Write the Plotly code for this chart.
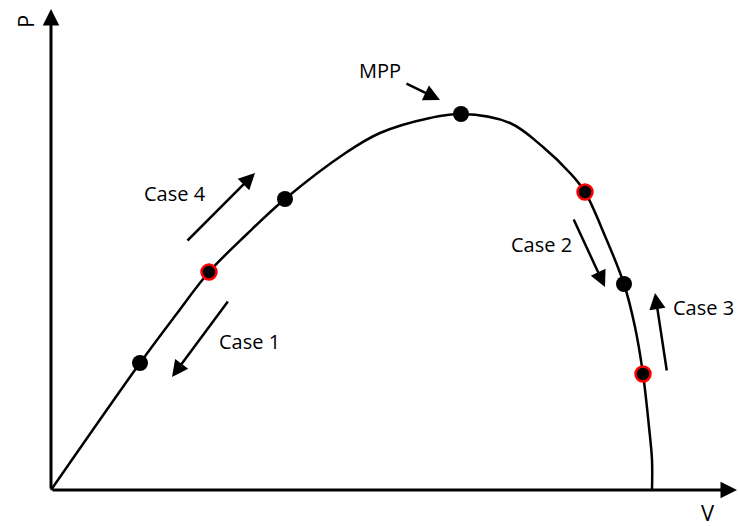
import plotly.graph_objects as go

# P-V curve (V, P) in diagram units (origin at axes corner)
curve_v = [0, 89, 124, 158, 196, 234, 296, 329, 379, 410, 459, 492, 519, 534, 554, 573, 584, 592, 598, 601, 601]
curve_p = [0, 127, 174, 218, 256, 291, 338, 357, 372, 376, 367, 343, 317, 298, 254, 206, 163, 116, 63, 30, 0]

black_v = [89, 234, 410, 573]
black_p = [127, 291, 376, 206]
red_v = [158, 534, 592]
red_p = [218, 298, 116]

# arrows: (tail_v, tail_p, head_v, head_p)
arrows = [
    (135, 248, 204, 317),   # Case 4
    (178, 190, 121, 113),   # Case 1
    (522, 272, 554, 203),   # Case 2
    (616, 118, 604, 197),   # Case 3
    (354, 407, 389, 390),   # MPP
]
labels = ["MPP", "Case 4", "Case 1", "Case 2", "Case 3"]
label_v = [329, 124, 198, 490, 652]
label_p = [420, 297, 149, 246, 183]

fig = go.Figure()
fig.add_trace(go.Scatter(x=curve_v, y=curve_p, mode="lines",
                         line=dict(color="black", width=2.5, shape="spline", smoothing=1.0),
                         hoverinfo="skip", showlegend=False))
fig.add_trace(go.Scatter(x=black_v, y=black_p, mode="markers",
                         marker=dict(color="black", size=16), showlegend=False))
fig.add_trace(go.Scatter(x=red_v, y=red_p, mode="markers",
                         marker=dict(color="black", size=15, line=dict(color="red", width=2.5)),
                         showlegend=False))

anns = []
# axes arrows
anns.append(dict(x=0, y=481, ax=0, ay=0, xref="x", yref="y", axref="x", ayref="y",
                 showarrow=True, arrowhead=2, arrowsize=1.1, arrowwidth=3, arrowcolor="black", text=""))
anns.append(dict(x=686, y=0, ax=0, ay=0, xref="x", yref="y", axref="x", ayref="y",
                 showarrow=True, arrowhead=2, arrowsize=1.1, arrowwidth=3, arrowcolor="black", text=""))
for tv, tp, hv, hp in arrows:
    anns.append(dict(x=hv, y=hp, ax=tv, ay=tp, xref="x", yref="y", axref="x", ayref="y",
                     showarrow=True, arrowhead=2, arrowsize=1.3, arrowwidth=2.5,
                     arrowcolor="black", text=""))
font = dict(family="Open Sans", size=20, color="black")
for t, v, p in zip(labels, label_v, label_p):
    anns.append(dict(x=v, y=p, xref="x", yref="y", text=t, showarrow=False, font=font))
anns.append(dict(x=-26, y=468, xref="x", yref="y", text="P", showarrow=False,
                 textangle=-90, font=dict(family="Open Sans", size=22, color="black")))
anns.append(dict(x=657, y=-22, xref="x", yref="y", text="V", showarrow=False,
                 font=dict(family="Open Sans", size=22, color="black")))

fig.update_layout(
    width=738, height=526, margin=dict(l=0, r=0, t=0, b=0),
    paper_bgcolor="white", plot_bgcolor="white",
    xaxis=dict(range=[-51, 687], visible=False, fixedrange=True),
    yaxis=dict(range=[-36, 490], visible=False, fixedrange=True),
    annotations=anns,
)
fig.write_html(
    "out.html",
    config={"displayModeBar": False},
    post_script="document.body.style.margin='0';document.body.style.overflow='hidden';",
)
